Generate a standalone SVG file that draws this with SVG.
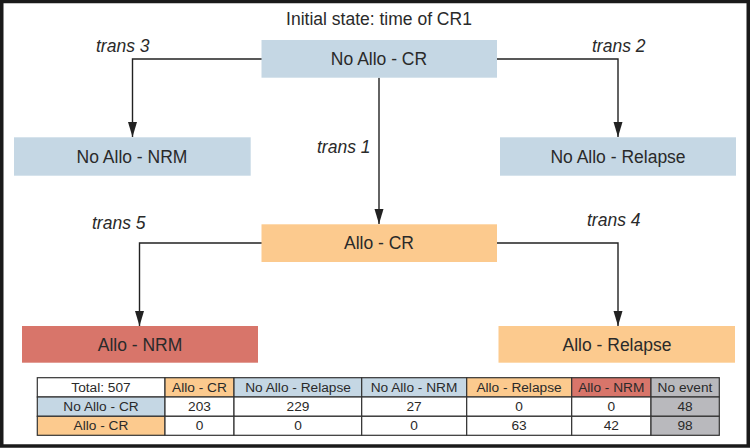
<svg xmlns="http://www.w3.org/2000/svg" width="750" height="448" viewBox="0 0 750 448">
<style>
text{font-family:"Liberation Sans",Arial,sans-serif;fill:#2a2a2a}
.t{font-size:17.5px;text-anchor:middle}
.tr{font-size:17.5px;font-style:italic}
.tb{font-size:13.7px;text-anchor:middle}
.blue{fill:#c5d7e4}
.orange{fill:#fcca8e}
.red{fill:#d8756a}
.gray{fill:#b9b9bd}
.white{fill:#ffffff}
.conn{fill:none;stroke:#222;stroke-width:1.4}
.cell{stroke:#333;stroke-width:1.2}
</style>
<defs>
<marker id="arr" markerUnits="userSpaceOnUse" markerWidth="16" markerHeight="10" refX="15" refY="4.5" orient="auto">
<path d="M0,0 L15,4.5 L0,9 z" fill="#222"/>
</marker>
</defs>
<rect x="0" y="0" width="750" height="448" fill="#fff"/>
<rect x="1.75" y="1.5" width="746.5" height="444.5" fill="none" stroke="#1a1a1a" stroke-width="3.5"/>
<text class="t" x="379" y="25">Initial state: time of CR1</text>

<g id="connectors">
<polyline class="conn" points="262,59 132.5,59 132.5,137" marker-end="url(#arr)"/>
<polyline class="conn" points="497,59 618,59 618,137" marker-end="url(#arr)"/>
<line class="conn" x1="379" y1="77.7" x2="379" y2="224" marker-end="url(#arr)"/>
<polyline class="conn" points="262,243 139.5,243 139.5,326" marker-end="url(#arr)"/>
<polyline class="conn" points="497,243 618,243 618,326" marker-end="url(#arr)"/>
<text class="tr" x="96" y="52">trans 3</text>
<text class="tr" x="592" y="52">trans 2</text>
<text class="tr" x="317" y="153">trans 1</text>
<text class="tr" x="92" y="229">trans 5</text>
<text class="tr" x="587" y="226">trans 4</text>
</g>

<g id="noallo-cr">
<rect class="blue" x="261.5" y="40" width="235.5" height="37.7"/>
<text class="t" x="379" y="65">No Allo - CR</text>
</g>
<g id="noallo-nrm">
<rect class="blue" x="14" y="137.3" width="236.7" height="38.4"/>
<text class="t" x="132" y="162.5">No Allo - NRM</text>
</g>
<g id="noallo-relapse">
<rect class="blue" x="500" y="137.3" width="236" height="38.4"/>
<text class="t" x="618" y="162.5">No Allo - Relapse</text>
</g>
<g id="allo-cr">
<rect class="orange" x="261.5" y="224.3" width="235.5" height="37.7"/>
<text class="t" x="379" y="249.3">Allo - CR</text>
</g>
<g id="allo-nrm">
<rect class="red" x="22" y="326" width="236" height="36.7"/>
<text class="t" x="140" y="350.5">Allo - NRM</text>
</g>
<g id="allo-relapse">
<rect class="orange" x="498.5" y="326" width="236.5" height="36.7"/>
<text class="t" x="617" y="350.5">Allo - Relapse</text>
</g>

<g id="table">
<rect class="cell white" x="37.3" y="377.7" width="127.7" height="19.3"/>
<rect class="cell orange" x="165" y="377.7" width="69" height="19.3"/>
<rect class="cell blue" x="234" y="377.7" width="127.7" height="19.3"/>
<rect class="cell blue" x="361.7" y="377.7" width="105" height="19.3"/>
<rect class="cell orange" x="466.7" y="377.7" width="105" height="19.3"/>
<rect class="cell red" x="571.7" y="377.7" width="79.3" height="19.3"/>
<rect class="cell gray" x="651" y="377.7" width="68.3" height="19.3"/>

<rect class="cell blue" x="37.3" y="397" width="127.7" height="19.3"/>
<rect class="cell white" x="165" y="397" width="69" height="19.3"/>
<rect class="cell white" x="234" y="397" width="127.7" height="19.3"/>
<rect class="cell white" x="361.7" y="397" width="105" height="19.3"/>
<rect class="cell white" x="466.7" y="397" width="105" height="19.3"/>
<rect class="cell white" x="571.7" y="397" width="79.3" height="19.3"/>
<rect class="cell gray" x="651" y="397" width="68.3" height="19.3"/>

<rect class="cell orange" x="37.3" y="416.3" width="127.7" height="19"/>
<rect class="cell white" x="165" y="416.3" width="69" height="19"/>
<rect class="cell white" x="234" y="416.3" width="127.7" height="19"/>
<rect class="cell white" x="361.7" y="416.3" width="105" height="19"/>
<rect class="cell white" x="466.7" y="416.3" width="105" height="19"/>
<rect class="cell white" x="571.7" y="416.3" width="79.3" height="19"/>
<rect class="cell gray" x="651" y="416.3" width="68.3" height="19"/>

<text class="tb" x="101" y="392">Total: 507</text>
<text class="tb" x="199.5" y="392">Allo - CR</text>
<text class="tb" x="298" y="392">No Allo - Relapse</text>
<text class="tb" x="414" y="392">No Allo - NRM</text>
<text class="tb" x="519" y="392">Allo - Relapse</text>
<text class="tb" x="611.3" y="392">Allo - NRM</text>
<text class="tb" x="685" y="392">No event</text>

<text class="tb" x="101" y="411">No Allo - CR</text>
<text class="tb" x="199.5" y="411">203</text>
<text class="tb" x="298" y="411">229</text>
<text class="tb" x="414" y="411">27</text>
<text class="tb" x="519" y="411">0</text>
<text class="tb" x="611.3" y="411">0</text>
<text class="tb" x="685" y="411">48</text>

<text class="tb" x="101" y="430">Allo - CR</text>
<text class="tb" x="199.5" y="430">0</text>
<text class="tb" x="298" y="430">0</text>
<text class="tb" x="414" y="430">0</text>
<text class="tb" x="519" y="430">63</text>
<text class="tb" x="611.3" y="430">42</text>
<text class="tb" x="685" y="430">98</text>
</g>
</svg>
